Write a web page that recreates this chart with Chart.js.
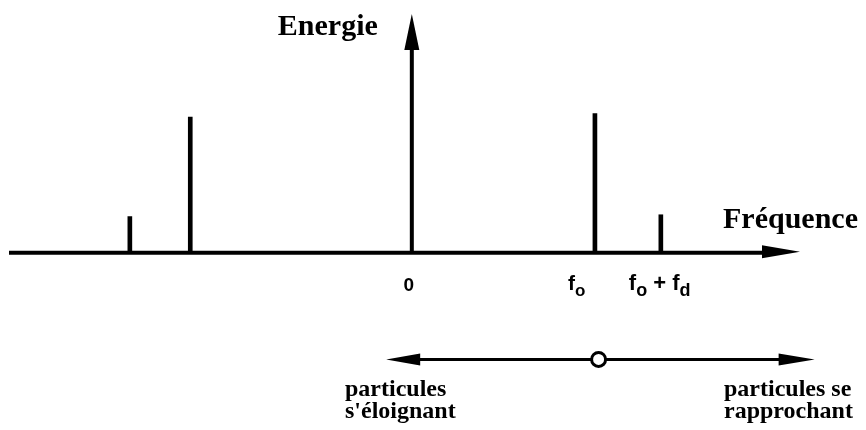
<!DOCTYPE html>
<html>
<head>
<meta charset="utf-8">
<script src="https://cdn.jsdelivr.net/npm/chart.js@4/dist/chart.umd.min.js"></script>
<style>
  html, body { margin: 0; padding: 0; background: #fff; }
  #wrap { width: 866px; height: 430px; position: relative; }
</style>
</head>
<body>
<div id="wrap"><canvas id="c"></canvas></div>
<script>
// Frequencies in arbitrary units (f0 = 10), energies in arbitrary units
const lineFrequencies = [-15.4, -12.1, 10, 13.6];
const lineEnergies = [1.0, 3.75, 3.85, 1.05];
const tickValues = [0, 10, 13.6];
const tickLabels = ['0', 'f_o', 'f_o + f_d'];
const xAxisTitle = 'Fréquence';
const yAxisTitle = 'Energie';
// Lower direction arrow (velocity sense)
const dirArrowLevel = -2.95;
const dirArrowFrom = -1.4;
const dirArrowTo = 22.0;
const dirCircleAt = 10.2;
const dirLeftLabel = ['particules', "s'éloignant"];
const dirRightLabel = ['particules se', 'rapprochant'];
const dirLeftLabelAt = -3.65;
const dirRightLabelAt = 17.05;

const INK = '#000';

function arrowHead(ctx, tipX, tipY, dx, dy, len, half) {
  const bx = tipX - dx * len, by = tipY - dy * len;
  const px = -dy, py = dx;
  ctx.beginPath();
  ctx.moveTo(tipX, tipY);
  ctx.lineTo(bx + px * half, by + py * half);
  ctx.lineTo(bx - px * half, by - py * half);
  ctx.closePath();
  ctx.fill();
}

function drawSubText(ctx, text, x, y, mainFont, subFont, subDrop, align) {
  const parts = [];
  for (let i = 0; i < text.length; i++) {
    if (text[i] === '_' && i + 1 < text.length) { parts.push({t: text[i+1], sub: true}); i++; }
    else parts.push({t: text[i], sub: false});
  }
  let total = 0;
  parts.forEach(p => { ctx.font = p.sub ? subFont : mainFont; p.w = ctx.measureText(p.t).width; total += p.w; });
  let cx = align === 'center' ? x - total / 2 : x;
  ctx.textAlign = 'left';
  ctx.textBaseline = 'alphabetic';
  parts.forEach(p => {
    ctx.font = p.sub ? subFont : mainFont;
    ctx.fillText(p.t, cx, p.sub ? y + subDrop : y);
    cx += p.w;
  });
}

const schemePlugin = {
  id: 'scheme',
  afterDatasetsDraw(chart) {
    const ctx = chart.ctx;
    const xs = chart.scales.x, ys = chart.scales.y;
    const y0 = ys.getPixelForValue(0);
    const x0 = xs.getPixelForValue(0);
    ctx.save();
    ctx.fillStyle = INK;
    ctx.strokeStyle = INK;
    ctx.lineCap = 'butt';

    // horizontal axis
    const xr = xs.getPixelForValue(xs.max);
    ctx.lineWidth = 4;
    ctx.beginPath();
    ctx.moveTo(xs.getPixelForValue(xs.min), y0);
    ctx.lineTo(xr - 20, y0);
    ctx.stroke();
    arrowHead(ctx, xr, y0 - 1, 1, 0, 38, 6.5);

    // vertical axis
    const yt = ys.getPixelForValue(ys.max);
    ctx.beginPath();
    ctx.moveTo(x0, y0);
    ctx.lineTo(x0, yt + 20);
    ctx.stroke();
    arrowHead(ctx, x0, yt, 0, -1, 36, 7.5);

    // axis titles
    ctx.font = 'bold 30px "Liberation Serif"';
    ctx.textBaseline = 'alphabetic';
    ctx.textAlign = 'right';
    ctx.fillText(yAxisTitle, x0 - 34, yt + 21);
    ctx.textAlign = 'left';
    ctx.fillText(xAxisTitle, xr - 77, y0 - 25);

    // tick labels
    tickValues.forEach((v, i) => {
      const px = xs.getPixelForValue(v);
      if (i === 0) {
        drawSubText(ctx, tickLabels[i], px - 3, y0 + 38, 'bold 19px "Liberation Sans"', 'bold 15px "Liberation Sans"', 6, 'center');
      } else if (i === 1) {
        drawSubText(ctx, tickLabels[i], px - 27, y0 + 37, 'bold 21px "Liberation Sans"', 'bold 17px "Liberation Sans"', 6, 'left');
      } else {
        drawSubText(ctx, tickLabels[i], px - 32, y0 + 37, 'bold 22px "Liberation Sans"', 'bold 18px "Liberation Sans"', 6, 'left');
      }
    });

    // direction arrow
    const ya = ys.getPixelForValue(dirArrowLevel);
    const xa1 = xs.getPixelForValue(dirArrowFrom), xa2 = xs.getPixelForValue(dirArrowTo);
    const xc = xs.getPixelForValue(dirCircleAt);
    ctx.lineWidth = 3;
    ctx.beginPath();
    ctx.moveTo(xa1 + 20, ya);
    ctx.lineTo(xa2 - 20, ya);
    ctx.stroke();
    arrowHead(ctx, xa1, ya, -1, 0, 34, 6);
    arrowHead(ctx, xa2, ya, 1, 0, 36, 6);
    ctx.beginPath();
    ctx.arc(xc, ya, 7, 0, Math.PI * 2);
    ctx.fillStyle = '#fff';
    ctx.fill();
    ctx.lineWidth = 3;
    ctx.stroke();
    ctx.fillStyle = INK;

    ctx.font = 'bold 24px "Liberation Serif"';
    ctx.textAlign = 'left';
    const lx = xs.getPixelForValue(dirLeftLabelAt), rx = xs.getPixelForValue(dirRightLabelAt);
    dirLeftLabel.forEach((t, i) => ctx.fillText(t, lx, ya + 37 + i * 22));
    dirRightLabel.forEach((t, i) => ctx.fillText(t, rx, ya + 37 + i * 22));

    ctx.restore();
  }
};

new Chart(document.getElementById('c'), {
  type: 'bar',
  data: {
    datasets: [{
      data: lineFrequencies.map((f, i) => ({x: f, y: lineEnergies[i]})),
      backgroundColor: INK,
      borderWidth: 0,
      barThickness: 4,
      grouped: false
    }]
  },
  options: {
    responsive: true,
    maintainAspectRatio: false,
    animation: false,
    layout: { padding: { left: 9, right: 66, top: 14, bottom: 0 } },
    plugins: { legend: { display: false }, tooltip: { enabled: false }, title: { display: false } },
    scales: {
      x: { type: 'linear', min: -22, max: 21.2, offset: false, display: false },
      y: { type: 'linear', min: -4.9, max: 6.6, display: false }
    }
  },
  plugins: [schemePlugin]
});
</script>
</body>
</html>
